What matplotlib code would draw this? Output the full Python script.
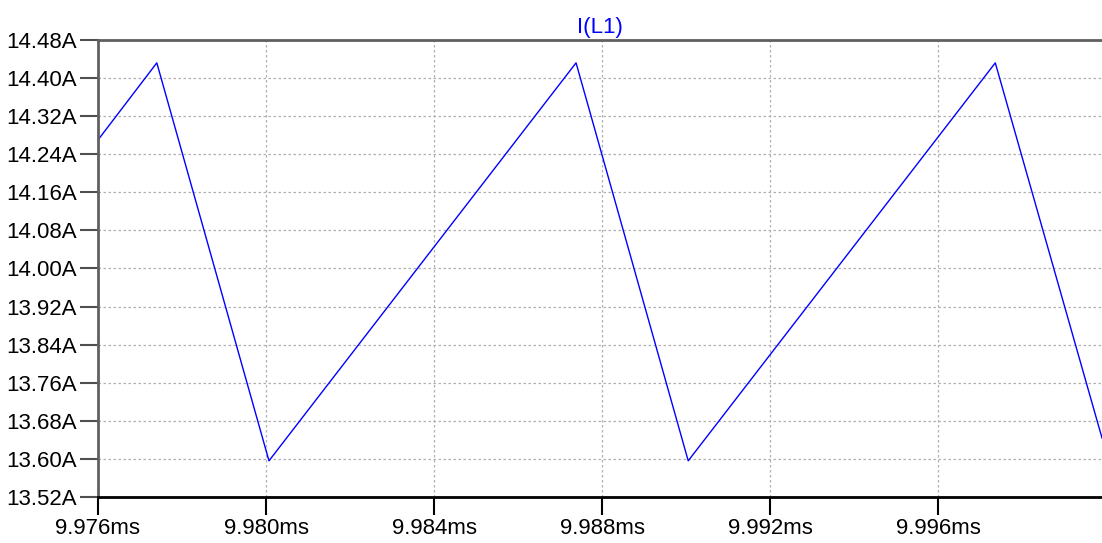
import numpy as np
import matplotlib.pyplot as plt

# inductor current waveform, time in ms, current in A
t_ms = [9.976, 9.97740, 9.98007, 9.98738, 9.99005, 9.99736, 9.9999]
i_L1 = [14.270, 14.432, 13.596, 14.432, 13.596, 14.432, 13.644]

xticks = [9.976, 9.980, 9.984, 9.988, 9.992, 9.996]
yticks = np.round(np.arange(13.52, 14.481, 0.08), 2)

plt.rcParams['font.family'] = ['Liberation Sans', 'DejaVu Sans']

W, H = 1102, 543
fig = plt.figure(figsize=(W/100, H/100), dpi=100)
ax = fig.add_axes([98/W, (H-497)/H, (W-98)/W, (497-40)/H])

ax.plot(t_ms, i_L1, color='#0000ff', lw=1.0)

ax.set_xlim(9.976, 9.9999)
ax.set_ylim(13.52, 14.48)
ax.set_xticks(xticks)
ax.set_xticklabels([f'{x:.3f}ms' for x in xticks])
ax.set_yticks(yticks)
ax.set_yticklabels([f'{y:.2f}A' for y in yticks])

ax.grid(True, color='#b0b0b0', ls=(0, (2, 2)), lw=0.9)
ax.tick_params(length=13, width=1.5, labelsize=16, pad=2, colors='black')
ax.tick_params(axis='y', color='#505050')

for side in ['left', 'top']:
    ax.spines[side].set_color('#606060')
    ax.spines[side].set_linewidth(2)
ax.spines['bottom'].set_color('black')
ax.spines['bottom'].set_linewidth(2)
ax.spines['right'].set_visible(False)

fig.text(600/W, 1 - 28/H, 'I(L1)', color='#0000ff', fontsize=16, ha='center', va='center')

fig.savefig('out.png', dpi=100)
